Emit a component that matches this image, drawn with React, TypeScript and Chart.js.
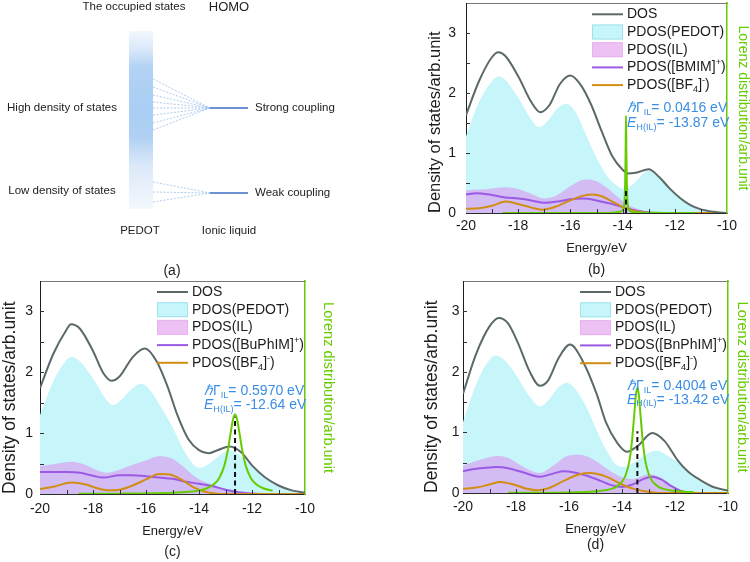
import React, { useEffect, useRef } from "react";
import { Chart, registerables } from "chart.js";

Chart.register(...registerables);

const FONT = "'Liberation Sans', Arial, Helvetica, sans-serif";
type Pt = [number, number];

/* ---------------- axis tick values ---------------- */
const energyTicks = [-20, -18, -16, -14, -12, -10];
const energyMinorTicks = [-19, -18, -17, -16, -15, -14, -13, -12, -11];
const dosTicks = [0, 1, 2, 3];
const dosMinorTicks = [0.5, 1, 1.5, 2, 2.5, 3];

/* ---------------- panel (b): [BMIM][BF4] ---------------- */
const dosB: Pt[] = [
  [-20, 1.63], [-19.5, 2.2], [-19, 2.6], [-18.76, 2.68], [-18.5, 2.62], [-18, 2.28],
  [-17.5, 1.85], [-17.16, 1.68], [-16.8, 1.8], [-16.4, 2.15], [-16, 2.29], [-15.6, 2.13],
  [-15.2, 1.8], [-14.8, 1.36], [-14.4, 0.95], [-14, 0.72], [-13.8, 0.66], [-13.5, 0.67],
  [-13, 0.73], [-12.6, 0.6], [-12.2, 0.41], [-11.8, 0.25], [-11.4, 0.13], [-11, 0.06],
  [-10.5, 0.02], [-10, 0],
];
const pedotB: Pt[] = [
  [-20, 1.28], [-19.5, 1.85], [-19, 2.2], [-18.76, 2.28], [-18.5, 2.22], [-18, 1.92],
  [-17.5, 1.56], [-17.2, 1.43], [-16.9, 1.52], [-16.5, 1.74], [-16.17, 1.82], [-15.8, 1.68],
  [-15.4, 1.3], [-15, 0.92], [-14.6, 0.62], [-14.2, 0.45], [-13.92, 0.4], [-13.6, 0.48],
  [-13.2, 0.66], [-13, 0.71], [-12.6, 0.59], [-12.2, 0.4], [-11.8, 0.24], [-11.4, 0.12],
  [-11, 0.05], [-10.5, 0.015], [-10, 0],
];
const ilB: Pt[] = [
  [-20, 0.38], [-19.5, 0.39], [-19, 0.41], [-18.5, 0.43], [-18, 0.4], [-17.5, 0.32],
  [-17, 0.24], [-16.5, 0.3], [-16, 0.45], [-15.4, 0.56], [-15, 0.53], [-14.6, 0.42],
  [-14.2, 0.27], [-13.8, 0.14], [-13.4, 0.06], [-13, 0.02], [-12.5, 0], [-10, 0],
];
const cationB: Pt[] = [
  [-20, 0.31], [-19.6, 0.33], [-19, 0.3], [-18.5, 0.26], [-18, 0.24], [-17.5, 0.21],
  [-17, 0.17], [-16.5, 0.19], [-16, 0.23], [-15.5, 0.24], [-15, 0.21], [-14.5, 0.16],
  [-14, 0.1], [-13.5, 0.04], [-13, 0.01], [-12.5, 0], [-10, 0],
];
const anionB: Pt[] = [
  [-20, 0.07], [-19.5, 0.08], [-19, 0.12], [-18.47, 0.19], [-18, 0.15], [-17.5, 0.09],
  [-17.1, 0.055], [-16.6, 0.1], [-16, 0.21], [-15.5, 0.29], [-15.15, 0.31], [-14.8, 0.28],
  [-14.4, 0.19], [-14, 0.1], [-13.6, 0.04], [-13.2, 0.01], [-12.8, 0], [-10, 0],
];
const lorentzB: Pt[] = [
  [-18.6, 0], [-15, 0.002], [-14.4, 0.005], [-14.1, 0.02], [-13.98, 0.06], [-13.93, 0.17],
  [-13.9, 0.55], [-13.885, 1.0], [-13.87, 1.62], [-13.855, 1.0], [-13.84, 0.55],
  [-13.81, 0.17], [-13.76, 0.06], [-13.64, 0.02], [-13.3, 0.005], [-12.5, 0.002], [-11.2, 0],
];

/* ---------------- panel (c): [BuPhIM][BF4] ---------------- */
const dosC: Pt[] = [
  [-20, 1.74], [-19.5, 2.3], [-19, 2.7], [-18.83, 2.79], [-18.5, 2.72], [-18, 2.35],
  [-17.6, 1.98], [-17.3, 1.86], [-17, 1.93], [-16.5, 2.25], [-16.04, 2.39], [-15.6, 2.18],
  [-15.2, 1.78], [-14.8, 1.28], [-14.4, 0.9], [-14, 0.72], [-13.65, 0.67], [-13.3, 0.72],
  [-12.84, 0.78], [-12.4, 0.68], [-12, 0.47], [-11.5, 0.27], [-11, 0.14], [-10.5, 0.06],
  [-10, 0.02],
];
const pedotC: Pt[] = [
  [-20, 1.3], [-19.5, 1.85], [-19, 2.2], [-18.8, 2.25], [-18.5, 2.18], [-18, 1.9],
  [-17.5, 1.55], [-17.24, 1.46], [-16.9, 1.56], [-16.5, 1.74], [-16.17, 1.81], [-15.8, 1.68],
  [-15.4, 1.4], [-15, 1.1], [-14.6, 0.74], [-14.2, 0.48], [-14, 0.43], [-13.6, 0.5],
  [-13.2, 0.64], [-12.85, 0.72], [-12.5, 0.65], [-12, 0.45], [-11.5, 0.26], [-11, 0.13],
  [-10.5, 0.05], [-10, 0.01],
];
const ilC: Pt[] = [
  [-20, 0.46], [-19.5, 0.49], [-18.8, 0.53], [-18.3, 0.48], [-17.8, 0.38], [-17.5, 0.35],
  [-17, 0.4], [-16.5, 0.48], [-16, 0.55], [-15.5, 0.62], [-15, 0.58], [-14.6, 0.45],
  [-14.2, 0.3], [-13.8, 0.2], [-13.4, 0.14], [-13, 0.08], [-12.6, 0.04], [-12.2, 0.01],
  [-11.8, 0], [-10, 0],
];
const cationC: Pt[] = [
  [-20, 0.36], [-19.5, 0.36], [-19, 0.36], [-18.5, 0.35], [-18, 0.3], [-17.6, 0.27],
  [-17, 0.31], [-16.5, 0.31], [-16, 0.29], [-15.5, 0.27], [-15, 0.25], [-14.5, 0.2],
  [-14, 0.17], [-13.5, 0.13], [-13, 0.07], [-12.5, 0.03], [-12, 0.01], [-11.5, 0], [-10, 0],
];
const anionC: Pt[] = [
  [-20, 0.08], [-19.5, 0.12], [-18.8, 0.19], [-18.3, 0.16], [-17.8, 0.09], [-17.4, 0.06],
  [-17, 0.07], [-16.5, 0.14], [-16, 0.24], [-15.5, 0.33], [-15.1, 0.32], [-14.6, 0.22],
  [-14.2, 0.11], [-13.8, 0.04], [-13.4, 0.01], [-13, 0], [-10, 0],
];
const lorentzC: Pt[] = [
  [-18.55, 0.003], [-17, 0.006], [-16, 0.01], [-15, 0.02], [-14.4, 0.036], [-14, 0.058],
  [-13.7, 0.095], [-13.44, 0.16], [-13.24, 0.26], [-13.04, 0.47], [-12.9, 0.75],
  [-12.8, 1.02], [-12.72, 1.22], [-12.64, 1.31], [-12.56, 1.22], [-12.48, 1.02],
  [-12.38, 0.75], [-12.24, 0.47], [-12.04, 0.26], [-11.84, 0.16], [-11.58, 0.095],
  [-11.22, 0.055],
];

/* ---------------- panel (d): [BnPhIM][BF4] ---------------- */
const dosD: Pt[] = [
  [-20, 1.64], [-19.5, 2.3], [-19, 2.75], [-18.65, 2.89], [-18.3, 2.8], [-17.9, 2.45],
  [-17.5, 2.02], [-17.1, 1.77], [-16.8, 1.85], [-16.4, 2.22], [-15.96, 2.45], [-15.46, 2.16],
  [-14.96, 1.64], [-14.6, 1.16], [-14.2, 0.84], [-13.81, 0.68], [-13.4, 0.78], [-12.86, 0.99],
  [-12.4, 0.86], [-11.9, 0.54], [-11.5, 0.35], [-11.03, 0.21], [-10.5, 0.09], [-10, 0.04],
];
const pedotD: Pt[] = [
  [-20, 1.17], [-19.5, 1.8], [-19, 2.2], [-18.74, 2.27], [-18.4, 2.18], [-18, 1.95],
  [-17.5, 1.6], [-17.1, 1.43], [-16.8, 1.52], [-16.4, 1.74], [-16.09, 1.82], [-15.7, 1.68],
  [-15.3, 1.38], [-14.9, 0.98], [-14.5, 0.64], [-14.2, 0.46], [-13.9, 0.43], [-13.5, 0.52],
  [-13, 0.66], [-12.7, 0.7], [-12.3, 0.62], [-11.65, 0.43], [-11.2, 0.24], [-10.8, 0.13],
  [-10.4, 0.05], [-10, 0.01],
];
const ilD: Pt[] = [
  [-20, 0.45], [-19.5, 0.53], [-19, 0.59], [-18.7, 0.61], [-18.3, 0.58], [-17.8, 0.45],
  [-17.1, 0.33], [-16.6, 0.45], [-16, 0.62], [-15.6, 0.63], [-15.2, 0.58], [-14.8, 0.47],
  [-14.4, 0.35], [-14, 0.26], [-13.6, 0.23], [-13.2, 0.29], [-12.9, 0.31], [-12.5, 0.24],
  [-12.1, 0.12], [-11.7, 0.03], [-11.3, 0], [-10, 0],
];
const cationD: Pt[] = [
  [-20, 0.36], [-19.5, 0.4], [-19, 0.42], [-18.7, 0.43], [-18.3, 0.41], [-17.8, 0.35],
  [-17.1, 0.27], [-16.6, 0.32], [-16.2, 0.36], [-15.8, 0.34], [-15.3, 0.28], [-14.8, 0.2],
  [-14.4, 0.13], [-14, 0.1], [-13.6, 0.14], [-13.2, 0.23], [-12.86, 0.27], [-12.5, 0.22],
  [-12.2, 0.13], [-11.8, 0.04], [-11.4, 0], [-10, 0],
];
const anionD: Pt[] = [
  [-20, 0.07], [-19.5, 0.09], [-19, 0.14], [-18.6, 0.18], [-18.1, 0.14], [-17.6, 0.07],
  [-17.16, 0.045], [-16.7, 0.09], [-16.2, 0.2], [-15.6, 0.31], [-15.2, 0.33], [-14.8, 0.3],
  [-14.45, 0.24], [-14, 0.14], [-13.5, 0.06], [-13, 0.02], [-12.6, 0], [-10, 0],
];
const lorentzD: Pt[] = [
  [-18.3, 0.003], [-17, 0.005], [-16, 0.01], [-15.2, 0.022], [-14.7, 0.042], [-14.4, 0.068],
  [-14.2, 0.106], [-14, 0.185], [-13.85, 0.31], [-13.72, 0.53], [-13.62, 0.87],
  [-13.54, 1.28], [-13.48, 1.6], [-13.42, 1.74], [-13.36, 1.6], [-13.3, 1.28],
  [-13.22, 0.87], [-13.12, 0.53], [-12.99, 0.31], [-12.84, 0.185], [-12.64, 0.106],
  [-12.44, 0.068], [-12.14, 0.042], [-11.64, 0.022], [-11.3, 0.015],
];

/* ---------------- per-panel annotation values ---------------- */
const cationNames = ["BMIM", "BuPhIM", "BnPhIM"];
const couplingWidths = ["0.0416", "0.5970", "0.4004"];
const homoEnergies = [-13.87, -12.64, -13.42];
const markerHeights = [0.42, 1.27, 1.02];

/* ---------------- panel (a) schematic values ---------------- */
const strongFanStarts = [79, 87, 95, 102, 108, 115, 123, 130];
const weakFanStarts = [182, 192, 202];
const strongLevel = 108;
const weakLevel = 193;

/* ---------------- colours ---------------- */
const C_DOS = "#5b6969";
const C_PEDOT = "#c6f5fa";
const C_PEDOT_EDGE = "#9fe3ee";
const C_IL = "rgba(222,132,236,0.5)";
const C_IL_EDGE = "#e8b4ee";
const C_CATION = "#9a5ae6";
const C_ANION = "#d18e12";
const C_GREEN = "#66cc00";
const C_BLUE = "#3a8ee6";
const C_TEXT = "#1c1c1c";

interface Seg { t: string; sub?: boolean; sup?: boolean; it?: boolean }

function drawRich(ctx: CanvasRenderingContext2D, segs: Seg[], x: number, y: number, size: number, color: string) {
  ctx.textBaseline = "middle";
  ctx.textAlign = "left";
  ctx.fillStyle = color;
  let cx = x;
  for (const s of segs) {
    const small = s.sub || s.sup;
    const fs = small ? size * 0.65 : size;
    ctx.font = `${s.it ? "italic " : ""}${fs}px ${FONT}`;
    const dy = s.sub ? size * 0.3 : s.sup ? -size * 0.32 : 0;
    ctx.fillText(s.t, cx, y + dy);
    cx += ctx.measureText(s.t).width;
  }
}

interface PanelSpec {
  idx: number;
  dos: Pt[]; pedot: Pt[]; il: Pt[]; cation: Pt[]; anion: Pt[]; lorentz: Pt[];
  label: string;
  canvasH: number;
  area: { left: number; top: number; right: number; bottom: number };
  padLeft: number; padRight: number; xAxisH: number;
  yTickPad: number; xTickPad: number;
  yTitleSize: number; y2TitleSize: number;
  legendLeft: number; legendTop: number; legendDy: number;
  annoX: number; annoY: [number, number];
  labelY: number;
}

const toXY = (pts: Pt[]) => pts.map(([x, y]) => ({ x, y }));

function panelConfig(p: PanelSpec): any {
  const W = 375;
  const ca = p.area;
  const E = homoEnergies[p.idx];
  const marker: Pt[] = [[E, 0], [E, markerHeights[p.idx]]];
  const curve = { pointRadius: 0, cubicInterpolationMode: "monotone" as const };
  const legend = [
    { kind: "line", color: C_DOS, label: [{ t: "DOS" }] },
    { kind: "box", color: C_PEDOT, edge: C_PEDOT_EDGE, label: [{ t: "PDOS(PEDOT)" }] },
    { kind: "box", color: C_IL, edge: C_IL_EDGE, label: [{ t: "PDOS(IL)" }] },
    { kind: "line", color: C_CATION, label: [{ t: `PDOS([${cationNames[p.idx]}]` }, { t: "+", sup: true }, { t: ")" }] },
    { kind: "line", color: C_ANION, label: [{ t: "PDOS([BF" }, { t: "4", sub: true }, { t: "]" }, { t: "-", sup: true }, { t: ")" }] },
  ];
  const gammaSegs: Seg[] = [{ t: "ℏ", it: true }, { t: "Γ" }, { t: "IL", sub: true }, { t: `= ${couplingWidths[p.idx]} eV` }];
  const energySegs: Seg[] = [{ t: "E", it: true }, { t: "H(IL)", sub: true }, { t: `= ${E.toFixed(2)} eV` }];

  const decor = {
    id: "decor" + p.idx,
    afterDraw(chart: any) {
      const { ctx, chartArea: a } = chart;
      const xs = chart.scales.x, ys = chart.scales.y;
      ctx.save();
      ctx.strokeStyle = "#333";
      ctx.lineWidth = 1;
      ctx.beginPath();
      for (const v of energyMinorTicks) {
        const px = Math.round(xs.getPixelForValue(v)) + 0.5;
        ctx.moveTo(px, a.bottom);
        ctx.lineTo(px, a.bottom - 4);
      }
      for (const v of dosMinorTicks) {
        const py = Math.round(ys.getPixelForValue(v)) + 0.5;
        ctx.moveTo(a.left, py);
        ctx.lineTo(a.left + 4, py);
      }
      ctx.stroke();
      legend.forEach((item: any, i: number) => {
        const y = a.top + p.legendTop + i * p.legendDy;
        const x0 = a.left + p.legendLeft;
        if (item.kind === "box") {
          ctx.fillStyle = item.color;
          ctx.fillRect(x0, y - 7.5, 31, 15);
          ctx.strokeStyle = item.edge;
          ctx.lineWidth = 1;
          ctx.strokeRect(x0 + 0.5, y - 7, 30, 14);
        } else {
          ctx.strokeStyle = item.color;
          ctx.lineWidth = 2;
          ctx.beginPath();
          ctx.moveTo(x0, y);
          ctx.lineTo(x0 + 31, y);
          ctx.stroke();
        }
        drawRich(ctx, item.label, x0 + 35, y, 14, C_TEXT);
      });
      const ax = xs.getPixelForValue(p.annoX);
      drawRich(ctx, gammaSegs, ax, ys.getPixelForValue(p.annoY[0]), 14, C_BLUE);
      drawRich(ctx, energySegs, ax, ys.getPixelForValue(p.annoY[1]), 14, C_BLUE);
      ctx.font = `14px ${FONT}`;
      ctx.fillStyle = C_TEXT;
      ctx.textAlign = "center";
      ctx.textBaseline = "middle";
      ctx.fillText(p.label, (a.left + a.right) / 2, p.labelY);
      ctx.restore();
    },
  };

  return {
    type: "line",
    data: {
      datasets: [
        { label: "PDOS(PEDOT)", data: toXY(p.pedot), ...curve, fill: "origin", backgroundColor: C_PEDOT, borderWidth: 0, order: 6 },
        { label: "PDOS(IL)", data: toXY(p.il), ...curve, fill: "origin", backgroundColor: C_IL, borderWidth: 0, order: 5 },
        { label: "cation", data: toXY(p.cation), ...curve, borderColor: C_CATION, borderWidth: 2, fill: false, order: 4 },
        { label: "anion", data: toXY(p.anion), ...curve, borderColor: C_ANION, borderWidth: 2, fill: false, order: 3 },
        { label: "DOS", data: toXY(p.dos), ...curve, borderColor: C_DOS, borderWidth: 2, fill: false, order: 2 },
        { label: "Lorenz", data: toXY(p.lorentz), ...curve, borderColor: C_GREEN, borderWidth: 2, fill: false, order: 1, yAxisID: "y2" },
        { label: "E_H", data: toXY(marker), pointRadius: 0, borderColor: "#111", borderWidth: 2, borderDash: [5, 3.5], fill: false, tension: 0, order: 0 },
      ],
    },
    options: {
      animation: false,
      responsive: false,
      devicePixelRatio: 1,
      layout: { padding: { left: p.padLeft, right: p.padRight, top: ca.top, bottom: p.canvasH - ca.bottom - p.xAxisH } },
      plugins: { legend: { display: false }, tooltip: { enabled: false }, title: { display: false } },
      scales: {
        x: {
          type: "linear", position: "bottom", min: -20, max: -10,
          afterBuildTicks: (s: any) => { s.ticks = energyTicks.map((v) => ({ value: v })); },
          ticks: { font: { family: FONT, size: 14 }, color: C_TEXT, padding: p.xTickPad, autoSkip: false, maxRotation: 0, callback: (v: any) => String(v) },
          grid: { display: false, drawTicks: false },
          border: { display: true, color: "#2a2a2a", width: 1 },
          title: { display: true, text: "Energy/eV", color: C_TEXT, font: { family: FONT, size: 13, lineHeight: 1 }, padding: 0 },
          afterFit: (s: any) => { s.height = p.xAxisH; s.paddingLeft = 0; s.paddingRight = 0; },
        },
        xTop: {
          type: "linear", position: "top", min: -20, max: -10,
          ticks: { display: false }, grid: { display: false, drawTicks: false },
          border: { display: true, color: "#777", width: 1 },
          afterFit: (s: any) => { s.height = 0; s.paddingLeft = 0; s.paddingRight = 0; },
        },
        y: {
          type: "linear", position: "left", min: 0, max: 3.5,
          afterBuildTicks: (s: any) => { s.ticks = dosTicks.map((v) => ({ value: v })); },
          ticks: { font: { family: FONT, size: 14 }, color: C_TEXT, padding: p.yTickPad, callback: (v: any) => String(v) },
          grid: { display: false, drawTicks: false },
          border: { display: true, color: "#1e1e1e", width: 1 },
          title: { display: true, text: "Density of states/arb.unit", align: "start", color: C_TEXT, font: { family: FONT, size: p.yTitleSize, lineHeight: 1 }, padding: { top: 1, bottom: 0 } },
          afterFit: (s: any) => { s.width = ca.left - p.padLeft; s.paddingTop = 0; s.paddingBottom = 0; },
        },
        y2: {
          type: "linear", position: "right", min: 0, max: 3.5,
          ticks: { display: false }, grid: { display: false, drawTicks: false },
          border: { display: true, color: C_GREEN, width: 1.5 },
          title: { display: true, text: "Lorenz distribution/arb.unit", color: C_GREEN, font: { family: FONT, size: p.y2TitleSize, lineHeight: 1 }, padding: 0 },
          afterFit: (s: any) => { s.width = W - p.padRight - ca.right; s.paddingTop = 0; s.paddingBottom = 0; },
        },
      },
    },
    plugins: [decor],
  };
}

const panelB: PanelSpec = {
  idx: 0, dos: dosB, pedot: pedotB, il: ilB, cation: cationB, anion: anionB, lorentz: lorentzB,
  label: "(b)", canvasH: 280, area: { left: 91, top: 3, right: 352, bottom: 213 },
  padLeft: 51, padRight: 0, xAxisH: 42, yTickPad: 10, xTickPad: 5, yTitleSize: 16.5, y2TitleSize: 14,
  legendLeft: 126, legendTop: 11.3, legendDy: 17.7, annoX: -13.83, annoY: [1.74, 1.49], labelY: 270,
};
const panelC: PanelSpec = {
  idx: 1, dos: dosC, pedot: pedotC, il: ilC, cation: cationC, anion: anionC, lorentz: lorentzC,
  label: "(c)", canvasH: 282, area: { left: 40, top: 1, right: 305, bottom: 214 },
  padLeft: 0, padRight: 40, xAxisH: 44, yTickPad: 7, xTickPad: 6.5, yTitleSize: 17.5, y2TitleSize: 14.5,
  legendLeft: 117, legendTop: 11, legendDy: 17.7, annoX: -13.81, annoY: [1.69, 1.46], labelY: 272,
};
const panelD: PanelSpec = {
  idx: 2, dos: dosD, pedot: pedotD, il: ilD, cation: cationD, anion: anionD, lorentz: lorentzD,
  label: "(d)", canvasH: 282, area: { left: 88, top: 1, right: 353, bottom: 213 },
  padLeft: 47, padRight: 1, xAxisH: 43, yTickPad: 3.5, xTickPad: 6, yTitleSize: 17.5, y2TitleSize: 14.5,
  legendLeft: 117, legendTop: 11, legendDy: 17.8, annoX: -13.81, annoY: [1.77, 1.54], labelY: 265,
};

/* ---------------- panel (a) schematic ---------------- */
function schematicConfig(): any {
  const column = { x0: 129, x1: 153, y0: 31, y1: 209 };
  const joinX = 210;
  const endX = 248;
  const fan = { pointRadius: 0, borderColor: "rgba(140,180,232,0.75)", borderWidth: 0.9, borderDash: [2, 1.5], fill: false, tension: 0 };
  const level = { pointRadius: 0, borderColor: "#3b6cc4", borderWidth: 1.6, fill: false, tension: 0 };
  const datasets: any[] = [
    ...strongFanStarts.map((y0) => ({ ...fan, data: [{ x: column.x1, y: y0 }, { x: joinX, y: strongLevel }] })),
    ...weakFanStarts.map((y0) => ({ ...fan, data: [{ x: column.x1, y: y0 }, { x: joinX, y: weakLevel }] })),
    { ...level, data: [{ x: joinX, y: strongLevel }, { x: endX, y: strongLevel }] },
    { ...level, data: [{ x: joinX, y: weakLevel }, { x: endX, y: weakLevel }] },
  ];
  const texts = [
    { t: "The occupied states", x: 134, y: 7, align: "center", size: 11.5 },
    { t: "HOMO", x: 229, y: 7, align: "center", size: 13 },
    { t: "High density of states", x: 62, y: 108, align: "center", size: 11.5 },
    { t: "Strong coupling", x: 255, y: 108, align: "left", size: 11.5 },
    { t: "Low density of states", x: 62, y: 191, align: "center", size: 11.5 },
    { t: "Weak coupling", x: 255, y: 193, align: "left", size: 11.5 },
    { t: "PEDOT", x: 140, y: 231, align: "center", size: 11.5 },
    { t: "Ionic liquid", x: 229, y: 231, align: "center", size: 11.5 },
    { t: "(a)", x: 172, y: 271, align: "center", size: 14 },
  ];
  const shades: [number, string][] = [
    [0, "#f2f7fd"], [0.1, "#dbe9f9"], [0.2, "#b3d3f5"], [0.45, "#a9cdf4"], [0.6, "#b0d1f4"],
    [0.68, "#c8def7"], [0.76, "#dce9f9"], [0.85, "#e6eefa"], [1, "#f4f8fd"],
  ];
  const deco = {
    id: "schematic",
    beforeDatasetsDraw(chart: any) {
      const { ctx } = chart;
      const xs = chart.scales.x, ys = chart.scales.y;
      const X0 = xs.getPixelForValue(column.x0), X1 = xs.getPixelForValue(column.x1);
      const Y0 = ys.getPixelForValue(column.y0), Y1 = ys.getPixelForValue(column.y1);
      const g = ctx.createLinearGradient(0, Y0, 0, Y1);
      shades.forEach(([o, c]) => g.addColorStop(o, c));
      ctx.save();
      ctx.fillStyle = g;
      ctx.fillRect(X0, Y0, X1 - X0, Y1 - Y0);
      ctx.restore();
    },
    afterDraw(chart: any) {
      const { ctx } = chart;
      const xs = chart.scales.x, ys = chart.scales.y;
      ctx.save();
      ctx.fillStyle = "#222";
      ctx.textBaseline = "middle";
      for (const tx of texts) {
        ctx.font = `${tx.size}px ${FONT}`;
        ctx.textAlign = tx.align as CanvasTextAlign;
        ctx.fillText(tx.t, xs.getPixelForValue(tx.x), ys.getPixelForValue(tx.y));
      }
      ctx.restore();
    },
  };
  return {
    type: "line",
    data: { datasets },
    options: {
      animation: false, responsive: false, devicePixelRatio: 1,
      layout: { padding: 0 },
      plugins: { legend: { display: false }, tooltip: { enabled: false } },
      scales: {
        x: { type: "linear", min: 0, max: 375, display: false },
        y: { type: "linear", min: 0, max: 280, reverse: true, display: false },
      },
    },
    plugins: [deco],
  };
}

function ChartCanvas(props: { left: number; top: number; width: number; height: number; make: () => any }) {
  const ref = useRef<HTMLCanvasElement>(null);
  useEffect(() => {
    const chart = new Chart(ref.current as HTMLCanvasElement, props.make());
    return () => chart.destroy();
  }, []);
  return (
    <canvas
      ref={ref}
      width={props.width}
      height={props.height}
      style={{ position: "absolute", left: props.left, top: props.top, width: props.width, height: props.height }}
    />
  );
}

export default function App() {
  return (
    <div style={{ position: "absolute", left: 0, top: 0, width: 750, height: 562, background: "#fff", overflow: "hidden" }}>
      <ChartCanvas left={0} top={0} width={375} height={280} make={schematicConfig} />
      <ChartCanvas left={375} top={0} width={375} height={280} make={() => panelConfig(panelB)} />
      <ChartCanvas left={0} top={280} width={375} height={282} make={() => panelConfig(panelC)} />
      <ChartCanvas left={375} top={280} width={375} height={282} make={() => panelConfig(panelD)} />
    </div>
  );
}
